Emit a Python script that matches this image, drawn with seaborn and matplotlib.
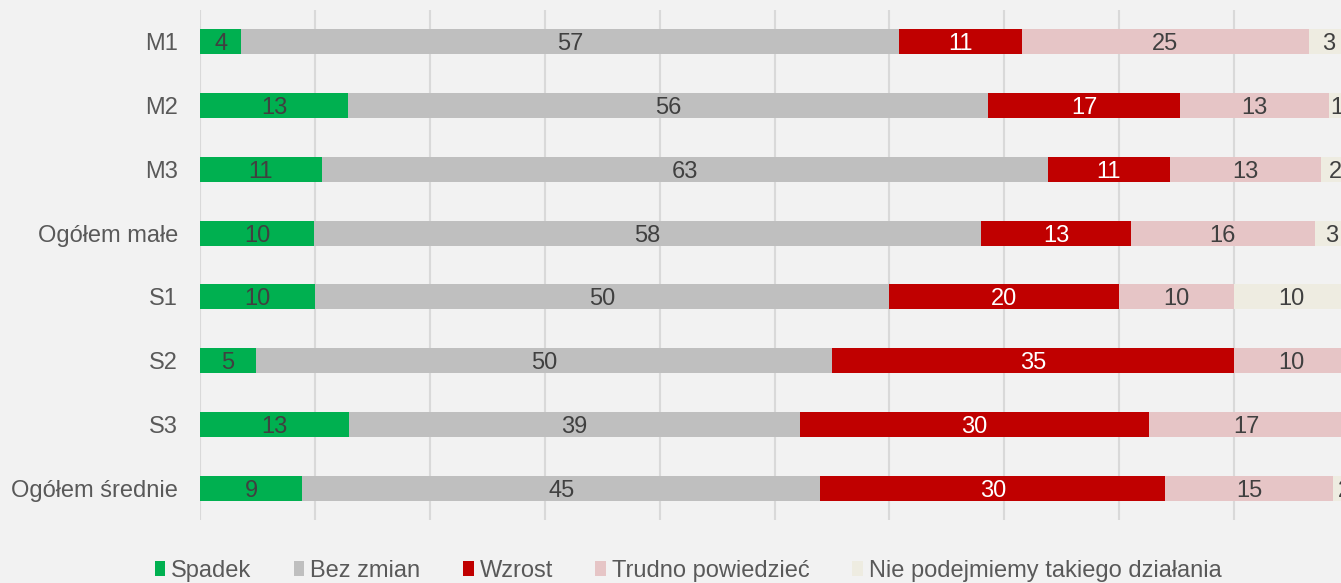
import seaborn as sns
from matplotlib import pyplot as plt
from matplotlib.patches import Patch
import numpy as np
import pandas as pd

groups = ['M1', 'M2', 'M3', 'Ogółem małe', 'S1', 'S2', 'S3', 'Ogółem średnie']
series = ['Spadek', 'Bez zmian', 'Wzrost', 'Trudno powiedzieć', 'Nie podejmiemy takiego działania']

spadek = [3.6, 12.9, 10.6, 9.9, 10.0, 4.9, 13.0, 8.9]
bez_zmian = [57.2, 55.7, 63.2, 58.1, 50.0, 50.1, 39.2, 45.1]
wzrost = [10.7, 16.7, 10.6, 13.0, 20.0, 35.0, 30.4, 30.0]
trudno = [25.0, 13.0, 13.2, 16.0, 10.0, 10.0, 16.9, 14.6]
nie_podejmiemy = [3.4, 1.3, 2.4, 3.0, 10.0, 0.0, 0.0, 2.0]

colors = ['#00B050', '#BFBFBF', '#C00000', '#E6C5C6', '#EEECE1']
label_colors = ['#404040', '#404040', '#FFFFFF', '#404040', '#404040']
bg = '#F2F2F2'

df = pd.DataFrame({'grupa': groups, 'Spadek': spadek, 'Bez zmian': bez_zmian,
                   'Wzrost': wzrost, 'Trudno powiedzieć': trudno,
                   'Nie podejmiemy takiego działania': nie_podejmiemy})

cum = df[series].cumsum(axis=1)

sns.set_theme(style='white', rc={'axes.facecolor': bg, 'figure.facecolor': bg})
plt.rcParams['font.family'] = ['Liberation Sans', 'DejaVu Sans']

fig = plt.figure(figsize=(13.41, 5.83), dpi=100)
ax = fig.add_axes([200 / 1341, 63 / 583, 1149 / 1341, 510 / 583])

# stacked bars: draw cumulative totals from the largest down
for i in range(len(series) - 1, -1, -1):
    sns.barplot(x=cum[series[i]], y=df['grupa'], order=groups, orient='h',
                color=colors[i], saturation=1, width=0.39, linewidth=0, ax=ax)

# segment labels
for i, s in enumerate(series):
    for j, g in enumerate(groups):
        v = df[s][j]
        if v <= 0:
            continue
        center = cum[s][j] - v / 2
        ax.text(center, j, f"{round(v):d}", ha='center', va='center_baseline',
                fontsize=17, color=label_colors[i])

ax.set_xlim(0, 100)
ax.set_ylim(7.5, -0.5)
ax.set_xticks(np.arange(0, 101, 10))
ax.set_xticklabels([])
ax.set_xlabel('')
ax.set_ylabel('')
ax.grid(axis='x', color='#D9D9D9', linewidth=1.5)
ax.set_axisbelow(True)
sns.despine(ax=ax, left=True, bottom=True)
ax.tick_params(axis='y', length=0, pad=16, labelsize=17, labelcolor='#595959')
ax.tick_params(axis='x', length=0)

handles = [Patch(facecolor=c, edgecolor='none') for c in colors]
fig.legend(handles, series, loc='center', bbox_to_anchor=(688 / 1341, 12 / 583),
           ncol=5, frameon=False, fontsize=17, labelcolor='#595959',
           handlelength=0.45, handleheight=0.6, handletextpad=0.25,
           columnspacing=1.8)

fig.savefig('out.png', dpi=100, facecolor=bg)
